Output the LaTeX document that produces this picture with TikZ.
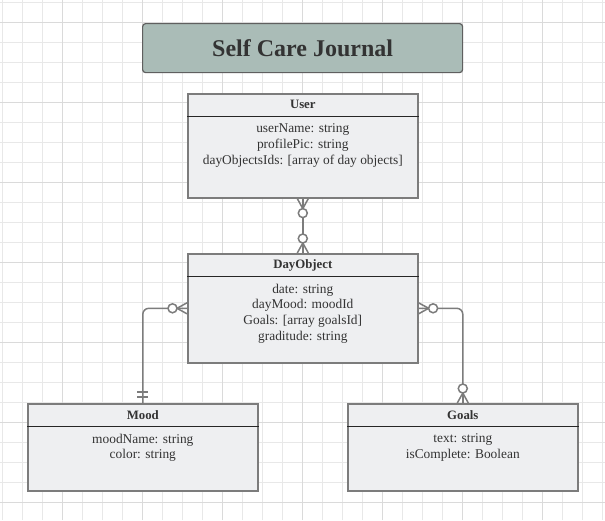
\documentclass[tikz,border=0pt]{standalone}
\usepackage{fontspec}
\setmainfont{Liberation Serif}
\usetikzlibrary{calc}
\definecolor{gridminor}{HTML}{E8E8E8}
\definecolor{gridmajor}{HTML}{DADADA}
\definecolor{boxfill}{HTML}{EEEFF1}
\definecolor{boxline}{HTML}{7C7C7C}
\definecolor{titlefill}{HTML}{AABCB7}
\definecolor{titleline}{HTML}{5F5F5F}
\definecolor{txt}{HTML}{333333}
\begin{document}
\begin{tikzpicture}[x=1pt,y=-1pt,
  entity/.style={draw=boxline, line width=1.6pt, fill=boxfill, rectangle, anchor=north west, minimum width=230pt, inner sep=0pt},
  hdr/.style={draw=black!85, line width=0.9pt},
  hd/.style={font=\fontsize{12.8pt}{14pt}\selectfont\bfseries, text=txt, inner sep=0pt},
  bd/.style={font=\fontsize{13.4pt}{15.6pt}\selectfont, text=txt, align=center, inner sep=0pt, anchor=north},
  conn/.style={draw=boxline, line width=1.5pt},
  zm/.pic={\draw[conn] (0,-5.5) -- (10,0) -- (0,5.5); \draw[conn] (0,0) -- (10,0); \draw[conn, fill=white] (14.5,0) circle (4.5);}
]
\useasboundingbox (0,0) rectangle (605,520);
\fill[white] (0,0) rectangle (605,520);
% grid
\foreach \x in {2,22,...,602} \draw[gridminor, line width=0.8pt] (\x,0) -- (\x,520);
\foreach \y in {2,22,...,518} \draw[gridminor, line width=0.8pt] (0,\y) -- (605,\y);
\foreach \x in {62,142,...,602} \draw[gridmajor, line width=0.8pt] (\x,0) -- (\x,520);
\foreach \y in {22,102,...,518} \draw[gridmajor, line width=0.8pt] (0,\y) -- (605,\y);

% title
\node[draw=titleline, line width=1.2pt, fill=titlefill, rounded corners=3pt, minimum width=320pt, minimum height=49pt, anchor=north west, inner sep=0pt] (title) at (142,23) {};
\node[font=\fontsize{24pt}{26pt}\selectfont\bfseries, text=txt, inner sep=0pt] (titleT) at (title.center) {Self Care Journal};

% entities
\node[entity, minimum height=104pt] (user) at (187,93) {};
\node[entity, minimum height=109pt] (day) at (187,253) {};
\node[entity, minimum height=87pt] (mood) at (27,403) {};
\node[entity, minimum height=87pt] (goals) at (347,403) {};

\draw[hdr] ($(user.north west)+(0,23.5)$) -- ($(user.north east)+(0,23.5)$);
\draw[hdr] ($(day.north west)+(0,23.5)$) -- ($(day.north east)+(0,23.5)$);
\draw[hdr] ($(mood.north west)+(0,23.5)$) -- ($(mood.north east)+(0,23.5)$);
\draw[hdr] ($(goals.north west)+(0,23.5)$) -- ($(goals.north east)+(0,23.5)$);

\node[hd] (userT) at ($(user.north)+(0,11.5)$) {User};
\node[hd] (dayT) at ($(day.north)+(0,12)$) {DayObject};
\node[hd] (moodT) at ($(mood.north)+(0,12)$) {Mood};
\node[hd] (goalsT) at ($(goals.north)+(0,12)$) {Goals};

\node[bd] (userB) at ($(user.north)+(0,30.8)$) {userName: string\\profilePic: string\\dayObjectsIds: [array of day objects]};
\node[bd] (dayB) at ($(day.north)+(0,30.8)$) {date: string\\dayMood: moodId\\Goals: [array goalsId]\\graditude: string};
\node[bd] (moodB) at ($(mood.north)+(0,30.8)$) {moodName: string\\color: string};
\node[bd] (goalsB) at ($(goals.north)+(0,30.8)$) {text: string\\isComplete: Boolean};

% connectors
\draw[conn] (user.south) -- (day.north);
\draw[conn, rounded corners=6pt] (day.west) -| (mood.north);
\draw[conn, rounded corners=6pt] (day.east) -| (goals.north);

% ends
\pic[rotate=-90] at (user.south) {zm};
\pic[rotate=90] at (day.north) {zm};
\pic[rotate=180] at (day.west) {zm};
\pic[rotate=0] at (day.east) {zm};
\pic[rotate=90] at (goals.north) {zm};
\draw[conn] ($(mood.north)+(-5.5,-6)$) -- ($(mood.north)+(5.5,-6)$);
\draw[conn] ($(mood.north)+(-5.5,-11)$) -- ($(mood.north)+(5.5,-11)$);
\end{tikzpicture}
\end{document}
